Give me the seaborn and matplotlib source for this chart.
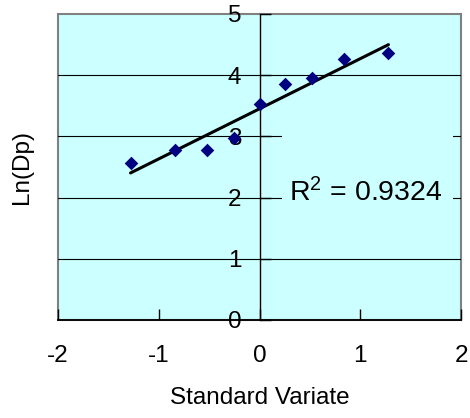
import numpy as np
import pandas as pd
import matplotlib
matplotlib.use("Agg")
import matplotlib.pyplot as plt
import seaborn as sns
from matplotlib.patches import Rectangle

# ---- data ----
standard_variate = [-1.28, -0.84, -0.52, -0.25, 0.0, 0.25, 0.52, 0.84, 1.28]
ln_dp = [2.56, 2.78, 2.78, 2.97, 3.53, 3.86, 3.96, 4.26, 4.36]
x_ticks = [-2, -1, 0, 1, 2]
y_ticks = [0, 1, 2, 3, 4, 5]
grid_levels = [1, 2, 3, 4]
r2_text = "R$^2$ = 0.9324"
x_label = "Standard Variate"
y_label = "Ln(Dp)"

sns.set_style("white")
plt.rcParams["font.family"] = ["Liberation Sans", "DejaVu Sans"]
plt.rcParams["mathtext.fontset"] = "custom"
plt.rcParams["mathtext.rm"] = "Liberation Sans"
plt.rcParams["mathtext.it"] = "Liberation Sans"
plt.rcParams["xtick.direction"] = "in"
plt.rcParams["ytick.direction"] = "in"
plt.rcParams["xtick.bottom"] = True
plt.rcParams["ytick.left"] = True

df = pd.DataFrame({x_label: standard_variate, y_label: ln_dp})

fig = plt.figure(figsize=(4.7, 4.18), dpi=100)
ax = fig.add_axes([58 / 470, (418 - 320) / 418, 403 / 470, 306 / 418])
ax.set_facecolor("#CCFFFF")
ax.set_axisbelow(True)

# horizontal gridlines
for g in grid_levels:
    ax.axhline(g, color="black", lw=0.8, zorder=0.5)

# background box of the R^2 label (hides gridlines behind it)
ax.add_patch(Rectangle((0.555, 0.31), 0.424, 0.355, transform=ax.transAxes,
                       facecolor="#CCFFFF", edgecolor="none", zorder=1))

sns.regplot(data=df, x=x_label, y=y_label, ci=None, truncate=True, ax=ax,
            marker="D",
            scatter_kws=dict(s=48, color="#000080", linewidths=0,
                             zorder=4, alpha=1),
            line_kws=dict(color="black", lw=2.2, zorder=3))

ax.set_xlim(-2, 2)
ax.set_ylim(0, 5)
ax.set_xticks(x_ticks)
ax.set_yticks(y_ticks)
ax.set_xticklabels([str(t) for t in x_ticks])
ax.set_yticklabels([str(t) for t in y_ticks])

ax.tick_params(axis="x", direction="in", length=8, width=1, pad=18,
               labelsize=17.5, colors="black", bottom=True)
ax.tick_params(axis="y", direction="in", length=8, width=1, pad=13,
               labelsize=17.5, colors="black", left=True)

for s in ["top", "right"]:
    ax.spines[s].set_visible(False)
ax.spines["left"].set_position(("data", 0))
ax.spines["left"].set_color("black")
ax.spines["left"].set_linewidth(1.0)
ax.spines["bottom"].set_color("black")
ax.spines["bottom"].set_linewidth(1.3)
ax.patch.set_edgecolor("#808080")
ax.patch.set_linewidth(1.5)

ax.set_xlabel(x_label, fontsize=17.5, color="black")
ax.set_ylabel(y_label, fontsize=17.5, color="black")
ax.xaxis.set_label_coords(0.5, -0.218)
ax.xaxis.label.set_verticalalignment("top")
ax.yaxis.set_label_coords(-0.062, 0.5)

ax.text(0.288, 1.933, r2_text, fontsize=20.5, ha="left", va="baseline",
        color="black", zorder=5)

fig.savefig("out.png", dpi=100, facecolor="white")
